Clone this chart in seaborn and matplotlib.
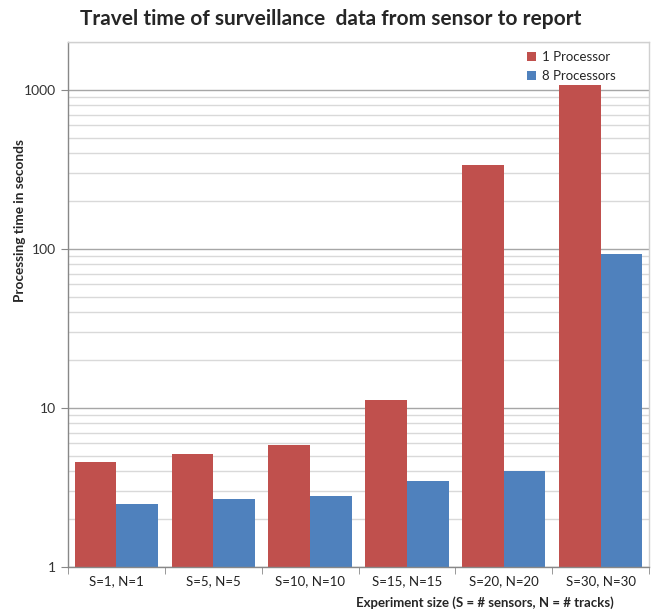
import matplotlib
matplotlib.use("Agg")
import matplotlib.pyplot as plt
import seaborn as sns
import pandas as pd
import numpy as np
from matplotlib.ticker import LogLocator, FixedLocator, NullFormatter, FuncFormatter

categories = ["S=1, N=1", "S=5, N=5", "S=10, N=10", "S=15, N=15", "S=20, N=20", "S=30, N=30"]
one_proc = [4.55, 5.15, 5.85, 11.2, 338, 1070]
eight_proc = [2.48, 2.68, 2.80, 3.47, 4.0, 93]
series_names = ["1 Processor", "8 Processors"]

df = pd.DataFrame({
    "cat": categories * 2,
    "val": one_proc + eight_proc,
    "series": [series_names[0]] * len(categories) + [series_names[1]] * len(categories),
})

sns.set_style("white")
plt.rcParams['font.family'] = ['Lato', 'DejaVu Sans']

fig = plt.figure(figsize=(6.52, 6.12), dpi=100)
ax = fig.add_axes([68/652, 1-567/612, (649-68)/652, (567-42)/612])

palette = {series_names[0]: "#C0504D", series_names[1]: "#4F81BD"}
sns.barplot(data=df, x="cat", y="val", hue="series", palette=palette, width=0.86,
            gap=0, saturation=1, ax=ax, legend=True, linewidth=0)
ax.set_yscale("log")
ax.set_ylim(1, 2000)
ax.set_xlim(-0.5, len(categories) - 0.5)
ax.yaxis.set_major_locator(FixedLocator([1, 10, 100, 1000]))
ax.yaxis.set_major_formatter(FuncFormatter(lambda v, p: f"{int(round(v))}"))
ax.yaxis.set_minor_locator(LogLocator(base=10, subs=np.arange(2, 10)))
ax.yaxis.set_minor_formatter(NullFormatter())
ax.grid(True, which="major", axis="y", color="#A6A6A6", linewidth=1.0)
ax.grid(True, which="minor", axis="y", color="#D9D9D9", linewidth=1.0)
ax.set_axisbelow(True)

for s in ["top", "right"]:
    ax.spines[s].set_color("#D0D0D0")
    ax.spines[s].set_linewidth(1.0)
for s in ["left", "bottom"]:
    ax.spines[s].set_color("#888888")
    ax.spines[s].set_linewidth(1.0)

ax.tick_params(axis="y", which="major", length=5, color="#888888", labelsize=10, labelcolor="#333333", direction="out", left=True)
ax.tick_params(axis="y", which="minor", length=0)
ax.tick_params(axis="x", length=0, labelsize=9.5, labelcolor="#222222", pad=6)
ax.set_xticks(np.arange(-0.5, len(categories)), minor=True)
ax.tick_params(axis="x", which="minor", length=5, color="#888888", bottom=True, direction="out")

ax.set_ylabel("Processing time in seconds", fontsize=9.8, fontweight="bold")
ax.yaxis.set_label_coords(-0.072, 0.66)
ax.set_xlabel("Experiment size (S = # sensors, N = # tracks)", fontsize=9.5, fontweight="bold")
ax.xaxis.set_label_coords(0.94, -0.055)
ax.xaxis.label.set_horizontalalignment("right")

fig.suptitle("Travel time of surveillance  data from sensor to report", x=0.507, y=0.985,
             fontsize=15, fontweight="bold", va="top")

leg = ax.legend(loc="upper right", frameon=False, fontsize=9.5, handlelength=0.7, handleheight=0.7,
                handletextpad=0.4, labelspacing=0.5, borderaxespad=0.3, bbox_to_anchor=(0.958, 1.0))

fig.savefig("out.png", dpi=100)
